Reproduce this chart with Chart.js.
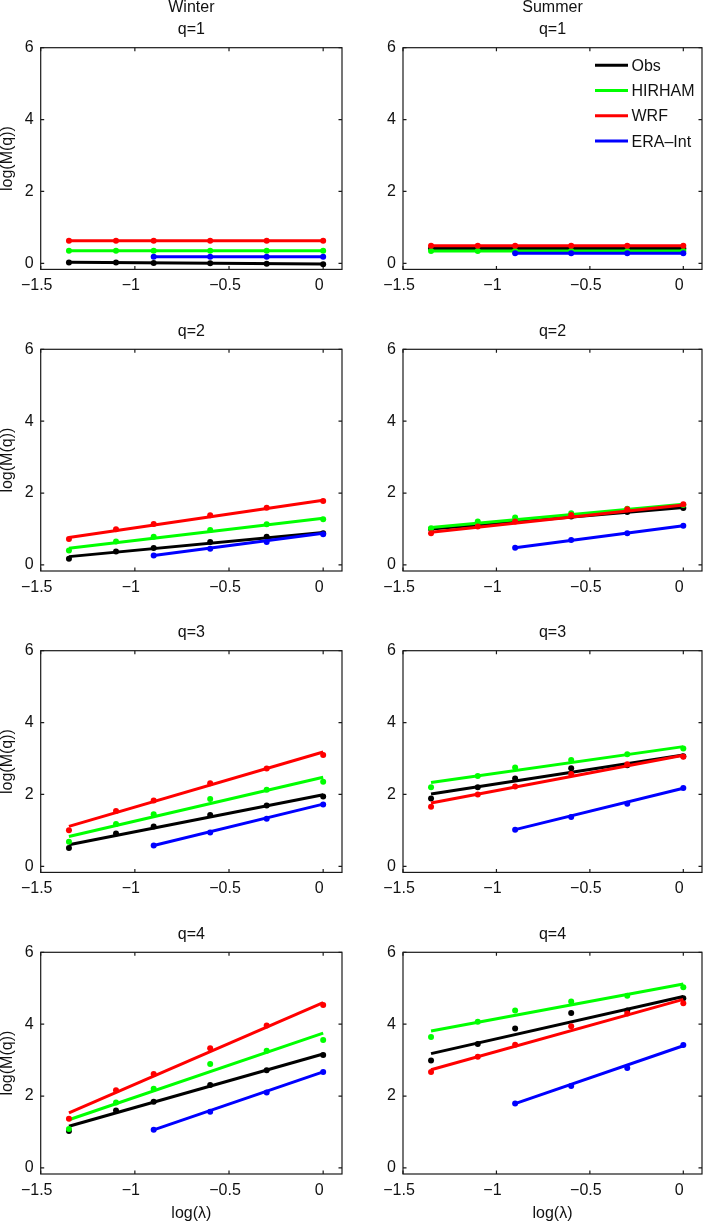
<!DOCTYPE html>
<html lang="en">
<head>
<meta charset="UTF-8">
<title>log(M(q)) vs log(lambda)</title>
<script src="https://cdn.jsdelivr.net/npm/chart.js"></script>
<style>
  body { margin: 0; background: #fff; }
  #fig { position: relative; width: 706px; height: 1222px; overflow: hidden; }
  .panel { position: absolute; }
</style>
</head>
<body>
<div id="fig"></div>
<script>
// x positions (log of scale ratio)
const xLog = [-1.35, -1.10, -0.90, -0.60, -0.30, 0];
const xEra = [-0.90, -0.60, -0.30, 0];
const xTicks = [-1.5, -1, -0.5, 0];
const yTicks = [0, 2, 4, 6];

const seasons = ['Winter', 'Summer'];
const qLabels = ['q=1', 'q=2', 'q=3', 'q=4'];
const seriesNames = ['Obs', 'HIRHAM', 'WRF', 'ERA\u2013Int'];
const seriesColors = ['#000000', '#00ff00', '#ff0000', '#0000ff'];

// one row per q
const obsWinter = [
  [0.02, 0.02, 0.01, 0.00, -0.01, -0.03],
  [0.17, 0.37, 0.47, 0.64, 0.78, 0.88],
  [0.51, 0.91, 1.11, 1.43, 1.69, 1.94],
  [1.03, 1.60, 1.84, 2.31, 2.72, 3.14]
];
const hirhamWinter = [
  [0.35, 0.35, 0.35, 0.35, 0.35, 0.35],
  [0.40, 0.65, 0.78, 0.97, 1.13, 1.27],
  [0.68, 1.18, 1.45, 1.87, 2.13, 2.35],
  [1.08, 1.82, 2.20, 2.89, 3.26, 3.56]
];
const wrfWinter = [
  [0.63, 0.63, 0.63, 0.63, 0.63, 0.63],
  [0.72, 0.99, 1.14, 1.38, 1.59, 1.78],
  [1.00, 1.54, 1.83, 2.31, 2.72, 3.10],
  [1.37, 2.16, 2.61, 3.33, 3.96, 4.53]
];
const eraWinter = [
  [0.18, 0.18, 0.18, 0.18],
  [0.26, 0.45, 0.64, 0.85],
  [0.58, 0.94, 1.32, 1.72],
  [1.06, 1.56, 2.10, 2.67]
];
const obsSummer = [
  [0.41, 0.41, 0.41, 0.41, 0.41, 0.41],
  [1.00, 1.10, 1.22, 1.35, 1.47, 1.58],
  [1.89, 2.20, 2.44, 2.73, 2.81, 3.06],
  [2.99, 3.45, 3.88, 4.31, 4.38, 4.72]
];
const hirhamSummer = [
  [0.34, 0.34, 0.34, 0.34, 0.34, 0.34],
  [1.02, 1.21, 1.32, 1.44, 1.56, 1.67],
  [2.20, 2.51, 2.75, 2.96, 3.12, 3.28],
  [3.64, 4.07, 4.38, 4.63, 4.79, 5.03]
];
const wrfSummer = [
  [0.49, 0.49, 0.49, 0.49, 0.49, 0.49],
  [0.88, 1.07, 1.21, 1.39, 1.55, 1.69],
  [1.66, 2.00, 2.22, 2.57, 2.84, 3.05],
  [2.67, 3.09, 3.43, 3.94, 4.30, 4.58]
];
const eraSummer = [
  [0.28, 0.28, 0.28, 0.28],
  [0.48, 0.69, 0.88, 1.09],
  [1.02, 1.37, 1.74, 2.18],
  [1.79, 2.28, 2.78, 3.42]
];

// fitted lines: [value at first x, value at x=0]
const obsWinterFit = [[0.03, -0.02], [0.23, 0.90], [0.60, 1.99], [1.16, 3.17]];
const hirhamWinterFit = [[0.35, 0.35], [0.46, 1.30], [0.83, 2.48], [1.34, 3.75]];
const wrfWinterFit = [[0.63, 0.63], [0.76, 1.80], [1.11, 3.18], [1.53, 4.60]];
const eraWinterFit = [[0.18, 0.18], [0.26, 0.88], [0.58, 1.73], [1.06, 2.67]];
const obsSummerFit = [[0.41, 0.41], [1.00, 1.60], [2.01, 3.10], [3.18, 4.77]];
const hirhamSummerFit = [[0.34, 0.34], [1.04, 1.69], [2.33, 3.33], [3.81, 5.12]];
const wrfSummerFit = [[0.49, 0.49], [0.91, 1.67], [1.76, 3.09], [2.73, 4.69]];
const eraSummerFit = [[0.28, 0.28], [0.48, 1.09], [1.02, 2.17], [1.79, 3.40]];

const seasonPts = [
  [obsWinter, hirhamWinter, wrfWinter, eraWinter],
  [obsSummer, hirhamSummer, wrfSummer, eraSummer]
];
const seasonFits = [
  [obsWinterFit, hirhamWinterFit, wrfWinterFit, eraWinterFit],
  [obsSummerFit, hirhamSummerFit, wrfSummerFit, eraSummerFit]
];
const seriesX = [xLog, xLog, xLog, xEra];

Chart.defaults.font.family = "'Liberation Sans', Arial, Helvetica, sans-serif";
Chart.defaults.font.size = 16;
Chart.defaults.color = '#111';

// layout of the 4x2 grid (page pixels)
const colLeft = [0, 353];
const areaLeft = [40.7, 403];
const areaRight = [342, 704.7];
const rowTop = [0, 301, 603, 904];
const rowH = [301, 302, 301, 318];
const areaTop = [47.7, 349.3, 650.7, 952.3];
const areaH = 221.7;

// box + inward tick marks like matlab axes
const framePlugin = {
  id: 'frame',
  beforeDatasetsDraw(chart) {
    const { ctx, chartArea: a, scales } = chart;
    const tl = 3.5;
    ctx.save();
    ctx.strokeStyle = '#1a1a1a';
    ctx.lineWidth = 1.2;
    ctx.strokeRect(a.left, a.top, a.right - a.left, a.bottom - a.top);
    ctx.beginPath();
    xTicks.forEach(v => {
      const px = scales.x.getPixelForValue(v);
      ctx.moveTo(px, a.bottom); ctx.lineTo(px, a.bottom - tl);
      ctx.moveTo(px, a.top); ctx.lineTo(px, a.top + tl);
    });
    yTicks.forEach(v => {
      const py = scales.y.getPixelForValue(v);
      ctx.moveTo(a.left, py); ctx.lineTo(a.left + tl, py);
      ctx.moveTo(a.right, py); ctx.lineTo(a.right - tl, py);
    });
    ctx.stroke();
    ctx.restore();
  }
};

// panel titles and the legend inside the top right panel
const textPlugin = {
  id: 'panelText',
  afterDraw(chart, args, opts) {
    const { ctx, chartArea: a } = chart;
    const cx = (a.left + a.right) / 2;
    ctx.save();
    ctx.fillStyle = '#111';
    ctx.font = "16px 'Liberation Sans', Arial, sans-serif";
    ctx.textAlign = 'center';
    ctx.textBaseline = 'middle';
    if (opts.season) ctx.fillText(opts.season, cx, a.top - 40);
    ctx.fillText(opts.q, cx, a.top - 18);
    if (opts.legend) {
      ctx.textAlign = 'left';
      seriesNames.forEach((name, i) => {
        const y = a.top + 17.5 + i * 25.3;
        ctx.strokeStyle = seriesColors[i];
        ctx.lineWidth = 3;
        ctx.beginPath();
        ctx.moveTo(a.right - 107, y);
        ctx.lineTo(a.right - 74, y);
        ctx.stroke();
        ctx.fillStyle = '#111';
        ctx.fillText(name, a.right - 70.5, y + 1);
      });
    }
    ctx.restore();
  }
};

function fmtTick(v) {
  return v < 0 ? '\u2212' + Math.abs(v) : String(v);
}

const fig = document.getElementById('fig');

for (let r = 0; r < 4; r++) {
  for (let c = 0; c < 2; c++) {
    const div = document.createElement('div');
    div.className = 'panel';
    div.style.left = colLeft[c] + 'px';
    div.style.top = rowTop[r] + 'px';
    const cv = document.createElement('canvas');
    cv.width = 353;
    cv.height = rowH[r];
    cv.style.width = '353px';
    cv.style.height = rowH[r] + 'px';
    div.appendChild(cv);
    fig.appendChild(div);

    const padTop = areaTop[r] - rowTop[r];
    const xh = rowTop[r] + rowH[r] - (areaTop[r] + areaH);
    const yw = areaLeft[c] - colLeft[c];
    const padRight = colLeft[c] + 353 - areaRight[c];

    const datasets = [];
    for (let s = 0; s < 4; s++) {
      const xs = seriesX[s];
      const pts = seasonPts[c][s][r];
      const fit = seasonFits[c][s][r];
      datasets.push({
        label: seriesNames[s] + ' fit',
        data: [{ x: xs[0], y: fit[0] }, { x: xs[xs.length - 1], y: fit[1] }],
        showLine: true,
        borderColor: seriesColors[s],
        borderWidth: 3,
        pointRadius: 0,
        order: (3 - s) * 2 + 1
      });
      datasets.push({
        label: seriesNames[s],
        data: xs.map((x, i) => ({ x: x, y: pts[i] })),
        showLine: false,
        pointRadius: 3,
        pointBackgroundColor: seriesColors[s],
        pointBorderWidth: 0,
        order: (3 - s) * 2
      });
    }

    new Chart(cv, {
      type: 'scatter',
      data: { datasets: datasets },
      options: {
        responsive: false,
        animation: false,
        layout: { padding: { top: padTop, right: padRight, bottom: 0, left: 0 } },
        plugins: {
          legend: { display: false },
          tooltip: { enabled: false },
          panelText: {
            season: r === 0 ? seasons[c] : null,
            q: qLabels[r],
            legend: r === 0 && c === 1
          }
        },
        scales: {
          x: {
            type: 'linear',
            min: -1.5,
            max: 0.1,
            afterBuildTicks: s => { s.ticks = xTicks.map(v => ({ value: v })); },
            afterFit: s => { s.height = xh; },
            grid: { display: false, drawTicks: false },
            border: { display: false },
            ticks: { padding: 7, labelOffset: -4, maxRotation: 0, autoSkip: false, callback: fmtTick },
            title: {
              display: r === 3,
              text: 'log(\u03bb)',
              font: { size: 16, lineHeight: 1 },
              padding: { top: 0, bottom: 0 }
            }
          },
          y: {
            type: 'linear',
            min: -0.17,
            max: 6,
            afterBuildTicks: s => { s.ticks = yTicks.map(v => ({ value: v })); },
            afterFit: s => { s.width = yw; },
            grid: { display: false, drawTicks: false },
            border: { display: false },
            ticks: { padding: 7, callback: fmtTick },
            title: {
              display: c === 0,
              text: 'log(M(q))',
              font: { size: 16, lineHeight: 1 },
              padding: { top: 0, bottom: 0 }
            }
          }
        }
      },
      plugins: [framePlugin, textPlugin]
    });
  }
}
</script>
</body>
</html>
